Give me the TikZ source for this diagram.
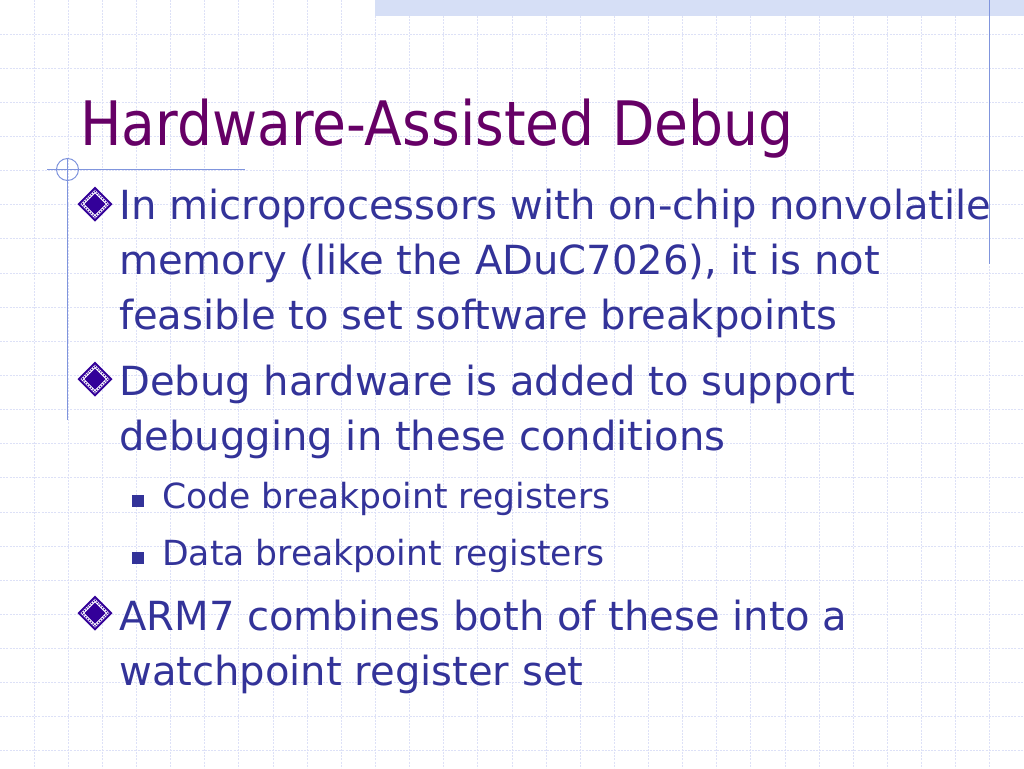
\documentclass[tikz,border=0pt]{standalone}
\usepackage{fontspec}
\setmainfont{DejaVu Sans}
\newfontfamily\titlefont{DejaVu Sans Condensed}
\definecolor{titlec}{HTML}{660066}
\definecolor{bodyc}{HTML}{333399}
\definecolor{bulc}{HTML}{330099}
\definecolor{gridc}{HTML}{DDE1F7}
\definecolor{decoc}{HTML}{8095DD}
\definecolor{bandc}{HTML}{D6DFF6}
\tikzset{
  gridline/.style={gridc, line width=0.9pt, dash pattern=on 2pt off 1.2pt},
  deco/.style={decoc, line width=1.4pt},
  titletext/.style={anchor=base west, inner sep=0pt, text=titlec, font=\titlefont\fontsize{61.3}{70}\selectfont},
  bodytext/.style={anchor=base west, inner sep=0pt, text=bodyc, font=\fontsize{40.1}{46}\selectfont},
  subtext/.style={anchor=base west, inner sep=0pt, text=bodyc, font=\fontsize{34.6}{40}\selectfont},
  subbul/.style={fill=bodyc, minimum size=12pt, inner sep=0pt, anchor=south west},
}
\newcommand{\dbul}[2]{%
  \fill[bulc] (#1-17.5,#2) -- (#1,#2-17.5) -- (#1+17.5,#2) -- (#1,#2+17.5) -- cycle;
  \fill[white] (#1-14.5,#2) -- (#1,#2-14.5) -- (#1+14.5,#2) -- (#1,#2+14.5) -- cycle;
  \draw[bulc, line width=1.3pt, dash pattern=on 1.3pt off 1.3pt] (#1-13,#2) -- (#1,#2-13) -- (#1+13,#2) -- (#1,#2+13) -- cycle;
  \fill[bulc] (#1-10.5,#2) -- (#1,#2-10.5) -- (#1+10.5,#2) -- (#1,#2+10.5) -- cycle;
}
\begin{document}
\begin{tikzpicture}[x=1pt,y=-1pt]
\useasboundingbox (0,0) rectangle (1024,768);
\fill[white] (0,0) rectangle (1024,768);
% grid
\foreach \k in {1,...,29} \draw[gridline] (\k*34.1333,0) -- (\k*34.1333,768);
\foreach \k in {1,...,22} \draw[gridline] (0,\k*34.1333) -- (1024,\k*34.1333);
% top band
\fill[bandc] (375,0) rectangle (1024,16);
% decorative lines
\draw[deco] (989.5,0) -- (989.5,264);
\draw[deco] (47,169.5) -- (245,169.5);
\draw[deco] (67.5,158) -- (67.5,420);
\draw[deco, line width=1pt] (67.5,169.5) circle (11);
% title
\node[titletext] (title) at (80,145) {Hardware-Assisted Debug};
% bullets
\dbul{95}{204}
\node[bodytext] (b1a) at (119,219) {In microprocessors with on-chip nonvolatile};
\node[bodytext] (b1b) at (119,274) {memory (like the ADuC7026), it is not};
\node[bodytext] (b1c) at (119,329) {feasible to set software breakpoints};
\dbul{95}{379}
\node[bodytext] (b2a) at (119,395) {Debug hardware is added to support};
\node[bodytext] (b2b) at (119,450) {debugging in these conditions};
\node[subbul] (s1) at (132,507) {};
\node[subtext] (s1t) at (162,508) {Code breakpoint registers};
\node[subbul] (s2) at (132,564) {};
\node[subtext] (s2t) at (162,565) {Data breakpoint registers};
\dbul{95}{613}
\node[bodytext] (b3a) at (119,630) {ARM7 combines both of these into a};
\node[bodytext] (b3b) at (119,685) {watchpoint register set};
\end{tikzpicture}
\end{document}
